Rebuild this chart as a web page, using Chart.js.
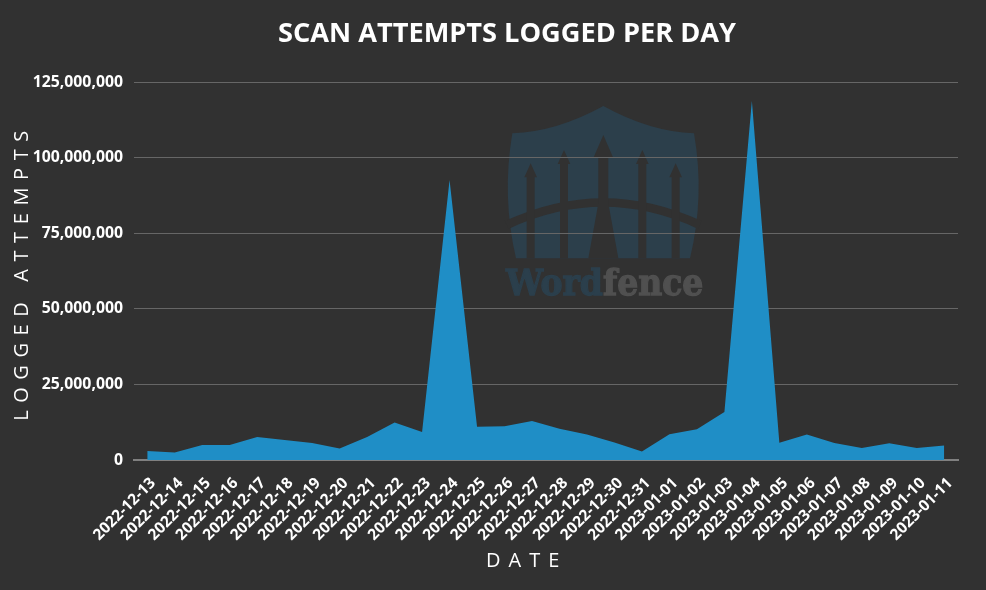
<!DOCTYPE html>
<html>
<head>
<meta charset="utf-8">
<title>Scan attempts logged per day</title>
<script src="https://cdn.jsdelivr.net/npm/chart.js@4"></script>
<style>
    html, body { margin: 0; padding: 0; background: #313131; }
    #wrap { width: 986px; height: 590px; }
</style>
</head>
<body>
<div id="wrap"><canvas id="myChart"></canvas></div>
<script>
const days = [
    '2022-12-13', '2022-12-14', '2022-12-15', '2022-12-16', '2022-12-17', '2022-12-18',
    '2022-12-19', '2022-12-20', '2022-12-21', '2022-12-22', '2022-12-23', '2022-12-24',
    '2022-12-25', '2022-12-26', '2022-12-27', '2022-12-28', '2022-12-29', '2022-12-30',
    '2022-12-31', '2023-01-01', '2023-01-02', '2023-01-03', '2023-01-04', '2023-01-05',
    '2023-01-06', '2023-01-07', '2023-01-08', '2023-01-09', '2023-01-10', '2023-01-11'
];
const attempts = [
    3000000, 2500000, 5000000, 5000000, 7600000, 6600000,
    5600000, 3800000, 7600000, 12400000, 9300000, 92600000,
    11000000, 11200000, 12900000, 10300000, 8400000, 5800000,
    2800000, 8500000, 10200000, 15900000, 118700000, 5700000,
    8400000, 5600000, 4000000, 5500000, 4000000, 4800000
];

const fontFamily = '"Open Sans", sans-serif';

// watermark behind the grid, coordinates are zoomed (3x) offsets from 490,90
const logoPlugin = {
    id: 'logo',
    beforeDraw(chart) {
        const ctx = chart.ctx;
        ctx.save();
        ctx.translate(490, 90);
        ctx.scale(1 / 3, 1 / 3);

        ctx.fillStyle = '#2c3f4b';
        ctx.beginPath();
        ctx.moveTo(340, 48);
        ctx.quadraticCurveTo(200, 125, 67, 130);
        ctx.quadraticCurveTo(35, 320, 78, 505);
        ctx.lineTo(600, 505);
        ctx.quadraticCurveTo(645, 320, 612, 130);
        ctx.quadraticCurveTo(480, 125, 340, 48);
        ctx.fill();

        ctx.fillStyle = '#313131';
        ctx.strokeStyle = '#313131';
        ctx.lineWidth = 26;
        ctx.beginPath();
        ctx.moveTo(50, 405);
        ctx.quadraticCurveTo(340, 270, 630, 405);
        ctx.stroke();

        [[122, 220], [222, 180], [457, 180], [557, 220]].forEach(p => {
            ctx.beginPath();
            ctx.moveTo(p[0], p[1]);
            ctx.lineTo(p[0] + 19, p[1] + 42);
            ctx.lineTo(p[0] + 12, p[1] + 42);
            ctx.lineTo(p[0] + 12, 505);
            ctx.lineTo(p[0] - 12, 505);
            ctx.lineTo(p[0] - 12, p[1] + 42);
            ctx.lineTo(p[0] - 19, p[1] + 42);
            ctx.fill();
        });
        ctx.beginPath();
        ctx.moveTo(340, 135);
        ctx.lineTo(369, 202);
        ctx.lineTo(355, 202);
        ctx.lineTo(355, 340);
        ctx.lineTo(385, 505);
        ctx.lineTo(295, 505);
        ctx.lineTo(325, 340);
        ctx.lineTo(325, 202);
        ctx.lineTo(311, 202);
        ctx.fill();

        ctx.font = 'bold 108px "DejaVu Serif", serif';
        ctx.textBaseline = 'alphabetic';
        const w1 = ctx.measureText('Word').width;
        const w2 = ctx.measureText('fence').width;
        const k = 592 / (w1 + w2);
        ctx.translate(48, 615);
        ctx.scale(k, 1);
        ctx.lineWidth = 4;
        ctx.fillStyle = ctx.strokeStyle = '#2b3f4c';
        ctx.fillText('Word', 0, 0);
        ctx.strokeText('Word', 0, 0);
        ctx.fillStyle = ctx.strokeStyle = '#505050';
        ctx.fillText('fence', w1, 0);
        ctx.strokeText('fence', w1, 0);
        ctx.restore();
    }
};

// chart.js has no letter spacing option for axis titles, and these titles sit off centre
const titleTweaks = {
    id: 'titleTweaks',
    afterLayout(chart) {
        chart.titleBlock.left += 23;
        chart.titleBlock.right += 23;
        [['x', -19, 0, '8px'], ['y', 0, 1, '7.6px']].forEach(a => {
            const scale = chart.scales[a[0]];
            if (scale.spaced) return;
            scale.spaced = true;
            const draw = scale.drawTitle;
            scale.drawTitle = function () {
                chart.ctx.save();
                chart.ctx.letterSpacing = a[3];
                chart.ctx.translate(a[1], a[2]);
                draw.call(scale);
                chart.ctx.restore();
            };
        });
    }
};

new Chart(document.getElementById('myChart'), {
    type: 'line',
    data: {
        labels: days,
        datasets: [{
            label: 'Logged attempts',
            data: attempts,
            fill: 'origin',
            backgroundColor: '#1f8ec6',
            borderWidth: 0,
            pointRadius: 0,
            tension: 0
        }]
    },
    options: {
        responsive: true,
        maintainAspectRatio: false,
        animation: false,
        layout: { padding: { left: 10, right: 28, top: 0, bottom: 12 } },
        plugins: {
            legend: { display: false },
            tooltip: { enabled: false },
            title: {
                display: true,
                text: 'SCAN ATTEMPTS LOGGED PER DAY',
                color: '#ffffff',
                font: { family: fontFamily, size: 27.2, weight: 'bold' },
                padding: { top: 18, bottom: 31.4 }
            }
        },
        scales: {
            x: {
                offset: true,
                grid: { display: false },
                border: { color: '#808080', width: 2 },
                ticks: {
                    color: '#ffffff',
                    autoSkip: false,
                    minRotation: 45,
                    maxRotation: 45,
                    padding: 6,
                    labelOffset: 6,
                    font: { family: fontFamily, size: 15.5, weight: 'bold' }
                },
                title: {
                    display: true,
                    text: 'DATE',
                    color: '#ffffff',
                    font: { family: fontFamily, size: 20 },
                    padding: { top: 12, bottom: 5 }
                },
                afterFit(scale) { scale.height = 118; }
            },
            y: {
                min: 0,
                max: 125000000,
                grid: { color: '#666666', drawTicks: false },
                border: { display: false },
                ticks: {
                    stepSize: 25000000,
                    color: '#ffffff',
                    padding: 10.5,
                    font: { family: fontFamily, size: 15.8, weight: 'bold' },
                    callback: v => v.toLocaleString('en-US')
                },
                title: {
                    display: true,
                    text: 'LOGGED ATTEMPTS',
                    color: '#ffffff',
                    font: { family: fontFamily, size: 20 },
                    padding: { top: 0, bottom: 0 }
                },
                afterFit(scale) { scale.width = 123.5; }
            }
        }
    },
    plugins: [logoPlugin, titleTweaks]
});
</script>
</body>
</html>
